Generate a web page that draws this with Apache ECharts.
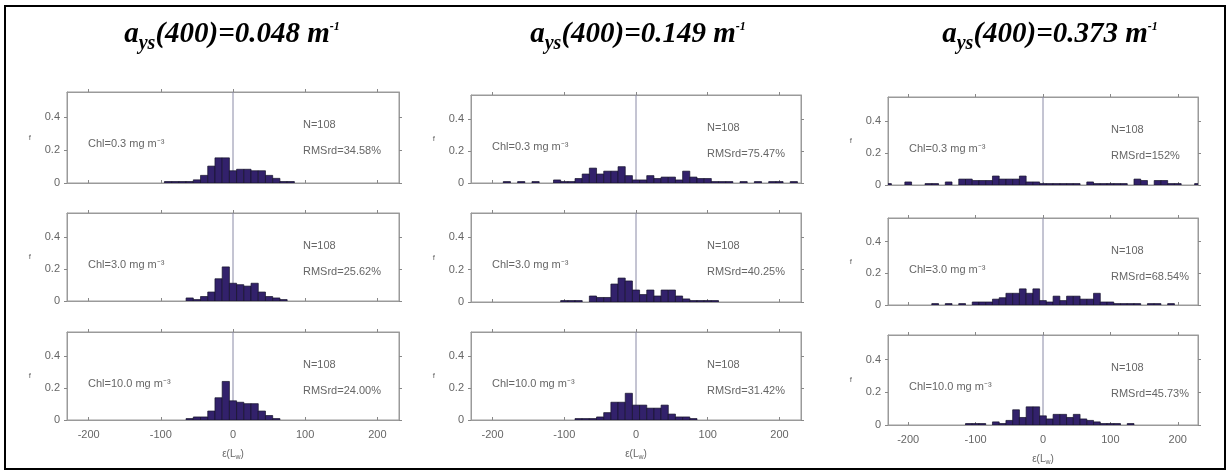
<!DOCTYPE html>
<html><head><meta charset="utf-8">
<script src="https://cdn.jsdelivr.net/npm/echarts@6/dist/echarts.min.js"></script>
<style>html,body{margin:0;padding:0;background:#fff}#c{width:1231px;height:475px}</style>
</head><body><div id="c"></div>
<script>
// ---- tick labels / categories ----
const xTickValues = [-200, -100, 0, 100, 200];
const yTickValues = [0, 0.2, 0.4];
const columnAys = ['0.048', '0.149', '0.373'];
const rowChl = ['0.3', '3.0', '10.0'];
const nValues = ['108', '108', '108'];
const rmsCol1 = ['34.58%', '25.62%', '24.00%'];
const rmsCol2 = ['75.47%', '40.25%', '31.42%'];
const rmsCol3 = ['152%', '68.54%', '45.73%'];
const binWidth = 10;

// ---- histogram values (bin centre, relative frequency) ----
// a_ys(400)=0.048
const c1r1Bins = [-90,-80,-70,-60,-50,-40,-30,-20,-10,0,10,20,30,40,50,60,70,80];
const c1r1Freq = [.009,.009,.009,.009,.019,.046,.102,.152,.152,.074,.083,.083,.074,.074,.046,.028,.009,.009];
const c1r2Bins = [-60,-50,-40,-30,-20,-10,0,10,20,30,40,50,60,70];
const c1r2Freq = [.019,.009,.028,.056,.139,.213,.111,.102,.093,.111,.056,.028,.019,.009];
const c1r3Bins = [-60,-50,-40,-30,-20,-10,0,10,20,30,40,50,60];
const c1r3Freq = [.009,.019,.019,.056,.139,.241,.120,.111,.102,.102,.056,.028,.009];
// a_ys(400)=0.149
const c2r1Bins = [-180,-160,-140,-110,-100,-90,-80,-70,-60,-50,-40,-30,-20,-10,0,10,20,30,40,50,60,70,80,90,100,110,120,130,150,170,190,200,220];
const c2r1Freq = [.009,.009,.009,.019,.009,.009,.028,.056,.093,.056,.074,.074,.102,.046,.019,.019,.046,.028,.037,.037,.019,.074,.037,.028,.028,.009,.009,.009,.009,.009,.009,.009,.009];
const c2r2Bins = [-100,-90,-80,-60,-50,-40,-30,-20,-10,0,10,20,30,40,50,60,70,80,90,100,110];
const c2r2Freq = [.009,.009,.009,.037,.028,.028,.111,.148,.130,.074,.046,.074,.037,.074,.074,.037,.019,.009,.009,.009,.009];
const c2r3Bins = [-80,-70,-60,-50,-40,-30,-20,-10,0,10,20,30,40,50,60,70,80];
const c2r3Freq = [.009,.009,.009,.019,.046,.111,.111,.167,.093,.093,.074,.074,.093,.037,.019,.019,.009];
// a_ys(400)=0.373
const c3r1Bins = [-230,-200,-170,-160,-140,-120,-110,-100,-90,-80,-70,-60,-50,-40,-30,-20,-10,0,10,20,30,40,50,70,80,90,100,110,120,140,150,170,180,190,200,230];
const c3r1Freq = [.009,.019,.009,.009,.019,.037,.037,.028,.028,.028,.056,.037,.037,.037,.056,.019,.019,.009,.009,.009,.009,.009,.009,.019,.009,.009,.009,.009,.009,.037,.028,.028,.028,.009,.009,.009];
const c3r2Bins = [-160,-140,-120,-100,-90,-80,-70,-60,-50,-40,-30,-20,-10,0,10,20,30,40,50,60,70,80,90,100,110,120,130,140,160,170,190];
const c3r2Freq = [.009,.009,.009,.019,.019,.019,.037,.046,.074,.074,.102,.074,.102,.028,.019,.056,.028,.056,.056,.037,.037,.074,.019,.019,.009,.009,.009,.009,.009,.009,.009];
const c3r3Bins = [-110,-100,-90,-70,-60,-50,-40,-30,-20,-10,0,10,20,30,40,50,60,70,80,90,100,110,130];
const c3r3Freq = [.009,.009,.009,.019,.009,.028,.093,.046,.111,.111,.056,.037,.065,.065,.046,.065,.037,.028,.019,.009,.009,.009,.009];

const panelBins = [[c1r1Bins,c1r2Bins,c1r3Bins],[c2r1Bins,c2r2Bins,c2r3Bins],[c3r1Bins,c3r2Bins,c3r3Bins]];
const panelFreq = [[c1r1Freq,c1r2Freq,c1r3Freq],[c2r1Freq,c2r2Freq,c2r3Freq],[c3r1Freq,c3r2Freq,c3r3Freq]];
const rmsAll = [rmsCol1, rmsCol2, rmsCol3];

// ---- layout (pixels) ----
const colLayout = [
  {left: 67,  width: 332, tops: [92, 213, 332], heights: [91, 88, 88]},
  {left: 471, width: 330, tops: [95, 213, 332], heights: [88, 89, 88]},
  {left: 888, width: 310, tops: [97, 218, 335], heights: [88, 87, 90]}
];

const chart = echarts.init(document.getElementById('c'), null, {renderer: 'canvas'});
const grids = [], xAxes = [], yAxes = [], series = [], graphics = [];
const labelFont = 'Liberation Sans, Arial, sans-serif';
const serif = 'Liberation Serif, Times New Roman, serif';
const grey = '#666';

function renderHist(params, api) {
  const x = api.value(0), y = api.value(1);
  const p0 = api.coord([x - binWidth / 2, y]);
  const p1 = api.coord([x + binWidth / 2, 0]);
  return {
    type: 'rect',
    shape: {x: p0[0], y: p0[1], width: p1[0] - p0[0], height: p1[1] - p0[1]},
    style: {fill: '#32216b', stroke: '#14112a', lineWidth: 0.7}
  };
}

let gi = 0;
for (let c = 0; c < 3; c++) {
  const L = colLayout[c];
  for (let r = 0; r < 3; r++) {
    const top = L.tops[r], h = L.heights[r];
    grids.push({left: L.left, top: top, width: L.width, height: h, show: true, borderColor: '#9a9a9a', borderWidth: 1, backgroundColor: '#fff'});
    const bottomRow = r === 2;
    xAxes.push({
      type: 'value', gridIndex: gi, min: -230, max: 230, position: 'bottom',
      axisLine: {show: true, onZero: false, lineStyle: {color: '#9a9a9a'}},
      axisTick: {show: true, inside: true, length: 3, customValues: xTickValues, lineStyle: {color: '#888'}},
      axisLabel: {show: bottomRow, customValues: xTickValues, color: grey, fontSize: 11, fontFamily: labelFont, margin: 9},
      splitLine: {show: false},
      name: bottomRow ? '{n|ε(L}{s|w}{n|)}' : '',
      nameLocation: 'middle', nameGap: 27,
      nameTextStyle: {rich: {n: {fontSize: 10, color: grey, fontFamily: labelFont}, s: {fontSize: 7, color: grey, verticalAlign: 'bottom', lineHeight: 14, fontFamily: labelFont}}}
    });
    xAxes.push({
      type: 'value', gridIndex: gi, min: -230, max: 230, position: 'top',
      axisLine: {show: true, onZero: false, lineStyle: {color: '#9a9a9a'}},
      axisTick: {show: true, inside: false, length: 3, customValues: xTickValues, lineStyle: {color: '#888'}},
      axisLabel: {show: false}, splitLine: {show: false}
    });
    yAxes.push({
      type: 'value', gridIndex: gi, min: 0, max: 0.55, position: 'left',
      axisLine: {show: true, onZero: false, lineStyle: {color: '#9a9a9a'}},
      axisTick: {show: true, inside: false, length: 3, customValues: yTickValues, lineStyle: {color: '#888'}},
      axisLabel: {show: true, customValues: yTickValues, color: grey, fontSize: 11, fontFamily: labelFont, margin: 7,
        formatter: v => (v === 0 ? '0' : v.toFixed(1))},
      splitLine: {show: false},
      name: 'f', nameLocation: 'middle', nameGap: 36, nameRotate: 0,
      nameTextStyle: {fontSize: 8, color: grey, fontFamily: labelFont}
    });
    yAxes.push({
      type: 'value', gridIndex: gi, min: 0, max: 0.55, position: 'right',
      axisLine: {show: true, onZero: false, lineStyle: {color: '#9a9a9a'}},
      axisTick: {show: true, inside: false, length: 3, customValues: yTickValues, lineStyle: {color: '#888'}},
      axisLabel: {show: false}, splitLine: {show: false}
    });
    const bins = panelBins[c][r], freq = panelFreq[c][r];
    series.push({
      type: 'line', xAxisIndex: gi * 2, yAxisIndex: gi * 2, data: [[0, 0], [0, 0.55]],
      symbol: 'none', lineStyle: {color: '#8a8aa6', width: 1}, silent: true, z: 1
    });
    series.push({
      type: 'custom', xAxisIndex: gi * 2, yAxisIndex: gi * 2, clip: true,
      data: bins.map((b, i) => [b, freq[i]]), renderItem: renderHist, z: 2
    });
    // annotations
    const tx = L.left + (c === 2 ? 223 : 236);
    graphics.push({type: 'text', left: L.left + 21, top: top + 46, style: {text: 'Chl=' + rowChl[r] + ' mg m⁻³', fill: grey, font: '11px ' + labelFont}});
    graphics.push({type: 'text', left: tx, top: top + 27, style: {text: 'N=' + nValues[c], fill: grey, font: '11px ' + labelFont}});
    graphics.push({type: 'text', left: tx, top: top + 53, style: {text: 'RMSrd=' + rmsAll[c][r], fill: grey, font: '11px ' + labelFont}});
    gi++;
  }
}

// column titles
const titleCenters = [232, 638, 1050];
for (let c = 0; c < 3; c++) {
  graphics.push({
    type: 'text', x: titleCenters[c], y: 35,
    style: {
      text: '{a|a}{s|ys}{a|(400)=' + columnAys[c] + ' m}{p|-1}',
      align: 'center', verticalAlign: 'middle',
      rich: {
        a: {fontSize: 29, fontWeight: 'bold', fontStyle: 'italic', fontFamily: serif, fill: '#000', lineHeight: 37, verticalAlign: 'middle'},
        s: {fontSize: 20, fontWeight: 'bold', fontStyle: 'italic', fontFamily: serif, fill: '#000', lineHeight: 37, verticalAlign: 'bottom'},
        p: {fontSize: 12, fontWeight: 'bold', fontStyle: 'italic', fontFamily: serif, fill: '#000', lineHeight: 37, verticalAlign: 'top', padding: [4, 0, 0, 0]}
      }
    }
  });
}
// outer frame
graphics.push({type: 'rect', shape: {x: 5, y: 6, width: 1220, height: 463}, style: {fill: 'none', stroke: '#000', lineWidth: 2}, z: 100});

chart.setOption({
  animation: false,
  backgroundColor: '#fff',
  grid: grids, xAxis: xAxes, yAxis: yAxes, series: series, graphic: graphics
});
</script></body></html>
